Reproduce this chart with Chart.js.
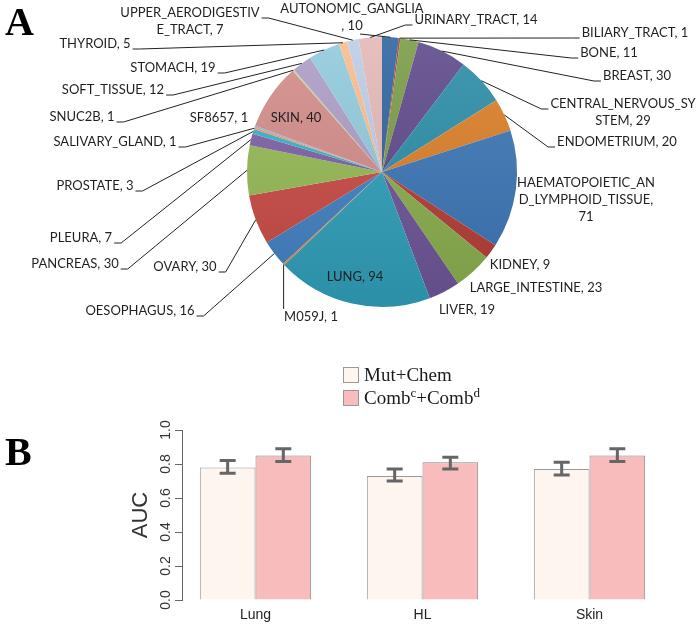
<!DOCTYPE html>
<html>
<head>
<meta charset="utf-8">
<script src="https://cdn.jsdelivr.net/npm/chart.js@4.4.0/dist/chart.umd.min.js"></script>
<style>
  html, body { margin: 0; padding: 0; background: #fff; }
  #wrap { position: relative; width: 697px; height: 625px; overflow: hidden; }
  #pieCanvas { position: absolute; left: 0; top: 0; }
  #barCanvas { position: absolute; left: 0; top: 340px; }
  .panel { position: absolute; font-family: "Liberation Serif", serif; font-weight: bold; font-size: 40px; line-height: 40px; color: #000; }
  #legend { position: absolute; left: 343px; top: 363px; font-family: "Liberation Serif", serif; font-size: 19px; color: #1a1a1a; }
  .legend__row { display: flex; align-items: center; height: 23px; }
  .legend__box { width: 14px; height: 14px; border: 1px solid #999; margin-right: 5px; }
  .legend__row sup { font-size: 13px; vertical-align: 7px; line-height: 0; }
</style>
</head>
<body>
<div id="wrap">
  <canvas id="pieCanvas" width="697" height="340"></canvas>
  <canvas id="barCanvas" width="697" height="285"></canvas>
  <div class="panel" style="left:5px;top:2px;">A</div>
  <div class="panel" style="left:5px;top:432px;">B</div>
  <div id="legend"></div>
</div>
<script>
// panel A: cell lines per tissue
const tissues = [
  'AUTONOMIC_GANGLIA', 'BILIARY_TRACT', 'BONE', 'BREAST', 'CENTRAL_NERVOUS_SYSTEM', 'ENDOMETRIUM',
  'HAEMATOPOIETIC_AND_LYMPHOID_TISSUE', 'KIDNEY', 'LARGE_INTESTINE', 'LIVER', 'LUNG', 'M059J',
  'OESOPHAGUS', 'OVARY', 'PANCREAS', 'PLEURA', 'PROSTATE', 'SALIVARY_GLAND',
  'SF8657', 'SKIN', 'SNUC2B', 'SOFT_TISSUE', 'STOMACH', 'THYROID',
  'UPPER_AERODIGESTIVE_TRACT', 'URINARY_TRACT',
];
const cellLineCounts = [10, 1, 11, 30, 29, 20, 71, 9, 23, 19, 94, 1, 16, 30, 30, 7, 3, 1, 1, 40, 1, 12, 19, 5, 7, 14];

// panel B: AUC per tissue group
const groups = ['Lung', 'HL', 'Skin'];
const mutChemAUC = [0.78, 0.73, 0.77];
const mutChemLow = [0.745, 0.70, 0.735];
const mutChemHigh = [0.82, 0.77, 0.81];
const combAUC = [0.85, 0.81, 0.85];
const combLow = [0.815, 0.77, 0.815];
const combHigh = [0.89, 0.84, 0.89];
const aucTicks = [0, 0.2, 0.4, 0.6, 0.8, 1.0];

const SLICE_COLORS = [
  '#2f64a0', '#a83c38', '#7a9c44', '#5e4a8a', '#2b8ea8', '#dc7f2a',
  '#3b76b6', '#b53d38', '#8aae4d', '#6d5698', '#319fbb', '#e8893a',
  '#4381c4', '#c94a45', '#96ba55', '#7c62a5', '#3eb0cc', '#f39445',
  '#98b3d9', '#d38c8a', '#bdd597', '#ae9dc6', '#91cbdc', '#f9bc8c',
  '#bacde6', '#e4b8b7',
];

// where each pie label sits (centre of first line) and how its leader line leaves it
const labelSpots = [
  { cx: 352, cy: 9, breaks: [17], side: 'B' },
  { cx: 635, cy: 33, side: 'L' },
  { cx: 609, cy: 53, side: 'L' },
  { cx: 637, cy: 76, side: 'L' },
  { cx: 623, cy: 104, breaks: [18], side: 'L' },
  { cx: 617, cy: 142, side: 'L' },
  { cx: 586, cy: 183, breaks: [17, 35] },
  { cx: 520, cy: 265 },
  { cx: 536, cy: 288 },
  { cx: 467, cy: 310 },
  { cx: 355, cy: 277 },
  { cx: 311, cy: 317, side: 'T' },
  { cx: 140, cy: 311, side: 'R' },
  { cx: 185, cy: 267, side: 'R' },
  { cx: 75, cy: 264, side: 'R' },
  { cx: 81, cy: 238, side: 'R' },
  { cx: 95, cy: 186, side: 'R' },
  { cx: 115, cy: 142, side: 'R' },
  { cx: 219, cy: 118 },
  { cx: 296, cy: 118 },
  { cx: 82, cy: 117, side: 'R' },
  { cx: 113, cy: 90, side: 'R' },
  { cx: 173, cy: 68, side: 'R' },
  { cx: 95, cy: 44, side: 'R' },
  { cx: 190, cy: 13, breaks: [18], side: 'R' },
  { cx: 476, cy: 20, side: 'L' },
];
const LINE_H = 17;

function shade(hex, amount) {
  const n = parseInt(hex.slice(1), 16);
  const ch = [(n >> 16) & 255, (n >> 8) & 255, n & 255].map(c => {
    const v = amount > 0 ? c + (255 - c) * amount : c * (1 + amount);
    return Math.round(Math.max(0, Math.min(255, v)));
  });
  return `rgb(${ch[0]},${ch[1]},${ch[2]})`;
}

function splitLabel(text, breaks) {
  if (!breaks) return [text];
  const lines = [];
  let from = 0;
  breaks.forEach(at => {
    lines.push(text.slice(from, at).trim());
    from = at;
  });
  lines.push(text.slice(from).trim());
  return lines;
}

const pieLabels = {
  id: 'pieLabels',
  afterDatasetsDraw(chart) {
    const ctx = chart.ctx;
    const arcs = chart.getDatasetMeta(0).data;
    ctx.save();
    ctx.font = '13px Lato';
    ctx.fillStyle = '#1f1f1f';
    ctx.strokeStyle = '#222';
    ctx.lineWidth = 1;
    ctx.textAlign = 'center';
    ctx.textBaseline = 'middle';
    arcs.forEach((arc, i) => {
      const spot = labelSpots[i];
      const lines = splitLabel(`${tissues[i]}, ${cellLineCounts[i]}`, spot.breaks);
      lines.forEach((t, k) => ctx.fillText(t, spot.cx, spot.cy + k * LINE_H));
      if (!spot.side) return;

      const mid = (arc.startAngle + arc.endAngle) / 2;
      const tx = arc.x + Math.cos(mid) * arc.outerRadius;
      const ty = arc.y + Math.sin(mid) * arc.outerRadius;
      const half = ctx.measureText(lines[0]).width / 2;
      const base = spot.cy + 5;

      ctx.beginPath();
      if (spot.side === 'R') {
        ctx.moveTo(spot.cx + half + 2, base);
        ctx.lineTo(spot.cx + half + 9, base);
      } else if (spot.side === 'L') {
        ctx.moveTo(spot.cx - half - 2, base);
        ctx.lineTo(spot.cx - half - 9, base);
      } else if (spot.side === 'T') {
        ctx.moveTo(tx, spot.cy - 8);
      } else {
        ctx.moveTo(spot.cx + 8, spot.cy + (lines.length - 1) * LINE_H + 8);
      }
      ctx.lineTo(tx, ty);
      ctx.stroke();
    });
    ctx.restore();
  },
};

new Chart(document.getElementById('pieCanvas'), {
  type: 'pie',
  data: {
    labels: tissues,
    datasets: [{
      data: cellLineCounts,
      borderWidth: 0,
      backgroundColor: context => {
        const base = SLICE_COLORS[context.dataIndex];
        const area = context.chart.chartArea;
        if (!area) return base;
        const g = context.chart.ctx.createLinearGradient(0, area.top, 0, area.bottom);
        g.addColorStop(0, shade(base, 0.1));
        g.addColorStop(1, shade(base, -0.1));
        return g;
      },
    }],
  },
  options: {
    responsive: false,
    animation: false,
    layout: { padding: { left: 247, right: 180, top: 37, bottom: 33 } },
    plugins: { legend: { display: false }, tooltip: { enabled: false } },
  },
  plugins: [pieLabels],
});

// R-style bar plot: groups at 2, 5, 8 with one bar width of space between groups
const groupPos = [2, 5, 8];

const errorBars = {
  id: 'errorBars',
  afterDatasetsDraw(chart) {
    const ctx = chart.ctx;
    const y = chart.scales.y;
    const ranges = [[mutChemLow, mutChemHigh], [combLow, combHigh]];
    ctx.save();
    ctx.strokeStyle = '#666';
    ctx.lineWidth = 3;
    chart.data.datasets.forEach((ds, d) => {
      chart.getDatasetMeta(d).data.forEach((bar, i) => {
        const lo = y.getPixelForValue(ranges[d][0][i]);
        const hi = y.getPixelForValue(ranges[d][1][i]);
        ctx.beginPath();
        ctx.moveTo(bar.x, lo); ctx.lineTo(bar.x, hi);
        ctx.moveTo(bar.x - 8, lo); ctx.lineTo(bar.x + 8, lo);
        ctx.moveTo(bar.x - 8, hi); ctx.lineTo(bar.x + 8, hi);
        ctx.stroke();
      });
    });
    ctx.restore();
  },
};

// R draws rotated tick labels, the axis title and unlined group names
const rAxisText = {
  id: 'rAxisText',
  afterDraw(chart) {
    const ctx = chart.ctx;
    const x = chart.scales.x;
    const y = chart.scales.y;
    const area = chart.chartArea;
    ctx.save();
    ctx.textAlign = 'center';
    ctx.textBaseline = 'middle';
    ctx.fillStyle = '#222';
    ctx.font = '14px "Liberation Sans"';
    groups.forEach((g, i) => ctx.fillText(g, x.getPixelForValue(groupPos[i]), area.bottom + 15));
    ctx.fillStyle = '#333';
    aucTicks.forEach(v => {
      ctx.save();
      ctx.translate(area.left - 16, y.getPixelForValue(v));
      ctx.rotate(-Math.PI / 2);
      ctx.fillText(v.toFixed(1), 0, 0);
      ctx.restore();
    });
    ctx.font = '22px "Liberation Sans"';
    ctx.translate(area.left - 41, (area.top + area.bottom) / 2);
    ctx.rotate(-Math.PI / 2);
    ctx.fillText('AUC', 0, 0);
    ctx.restore();
  },
};

const barChart = new Chart(document.getElementById('barCanvas'), {
  type: 'bar',
  data: {
    datasets: [
      {
        label: 'Mut+Chem',
        data: groupPos.map((x, i) => ({ x, y: mutChemAUC[i] })),
        backgroundColor: '#fff5ef',
        borderColor: '#9a9a9a',
        borderWidth: 1,
      },
      {
        label: 'Combc+Combd',
        data: groupPos.map((x, i) => ({ x, y: combAUC[i] })),
        backgroundColor: '#f8bcbc',
        borderColor: '#888',
        borderWidth: 1,
      },
    ],
  },
  options: {
    responsive: false,
    animation: false,
    categoryPercentage: 2 / 3,
    barPercentage: 1,
    layout: { padding: { left: 175, right: 34, top: 90, bottom: 25 } },
    plugins: { legend: { display: false }, tooltip: { enabled: false } },
    scales: {
      x: {
        type: 'linear',
        offset: false,
        min: 0.68,
        max: 9.32,
        afterBuildTicks: scale => { scale.ticks = groupPos.map(value => ({ value })); },
        grid: { display: false, drawTicks: false, offset: false },
        border: { display: false },
        ticks: { display: false },
      },
      y: {
        min: 0,
        max: 1,
        afterBuildTicks: scale => { scale.ticks = aucTicks.map(value => ({ value })); },
        grid: { drawOnChartArea: false, drawTicks: true, tickLength: 7, color: '#666' },
        border: { display: true, color: '#666' },
        ticks: { display: false },
      },
    },
  },
  plugins: [errorBars, rAxisText],
});

const legendLabels = ['Mut+Chem', 'Comb<sup>c</sup>+Comb<sup>d</sup>'];
document.getElementById('legend').innerHTML = barChart.data.datasets.map((ds, i) =>
  `<div class="legend__row"><span class="legend__box" style="background:${ds.backgroundColor}"></span><span>${legendLabels[i]}</span></div>`
).join('');
</script>
</body>
</html>
